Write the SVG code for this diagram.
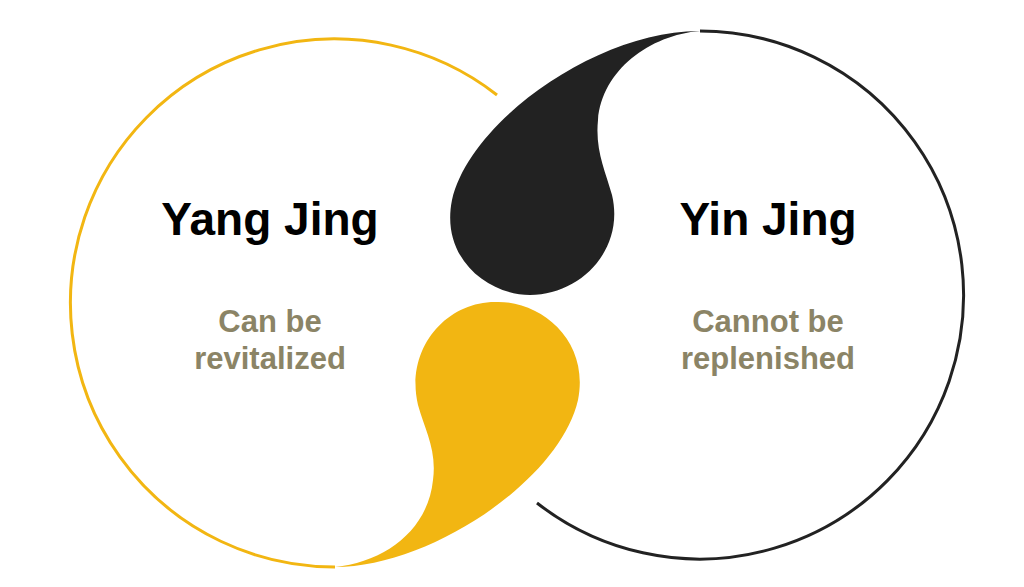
<svg xmlns="http://www.w3.org/2000/svg" width="1024" height="587" viewBox="0 0 1024 587">
<style>
.t{font-family:"Liberation Sans",Arial,sans-serif;font-weight:bold;text-anchor:middle}
.h{font-size:46px;fill:#000}
.s{font-size:31px;fill:#8b8466}
</style>
<rect width="1024" height="587" fill="#fff"/>
<g id="connectors">
<path d="M497 95 A264 264 0 1 0 335 567" fill="none" stroke="#f2b612" stroke-width="3"/>
<path d="M537 503 A264 264 0 1 0 700 31" fill="none" stroke="#222" stroke-width="3"/>
</g>
<g id="yin-drop"><path d="M700 31 C600 30 470 120 452 200 C440 260 490 295 530 295 C580 295 625 250 612 195 C605 170 595 150 598 120 C602 70 650 35 700 31 Z" fill="#222"/></g>
<g id="yang-drop"><path d="M335 567 C430 567 560 480 578 400 C590 340 540 300 495 302 C445 302 405 350 418 405 C425 430 437 450 433 480 C428 530 385 562 335 567 Z" fill="#f2b612"/></g>
<g id="yang"><text class="t h" x="270" y="235">Yang Jing</text>
<text class="t s" x="270" y="332">Can be</text><text class="t s" x="270" y="369">revitalized</text></g>
<g id="yin"><text class="t h" x="768" y="235">Yin Jing</text>
<text class="t s" x="768" y="332">Cannot be</text><text class="t s" x="768" y="369">replenished</text></g>
</svg>
